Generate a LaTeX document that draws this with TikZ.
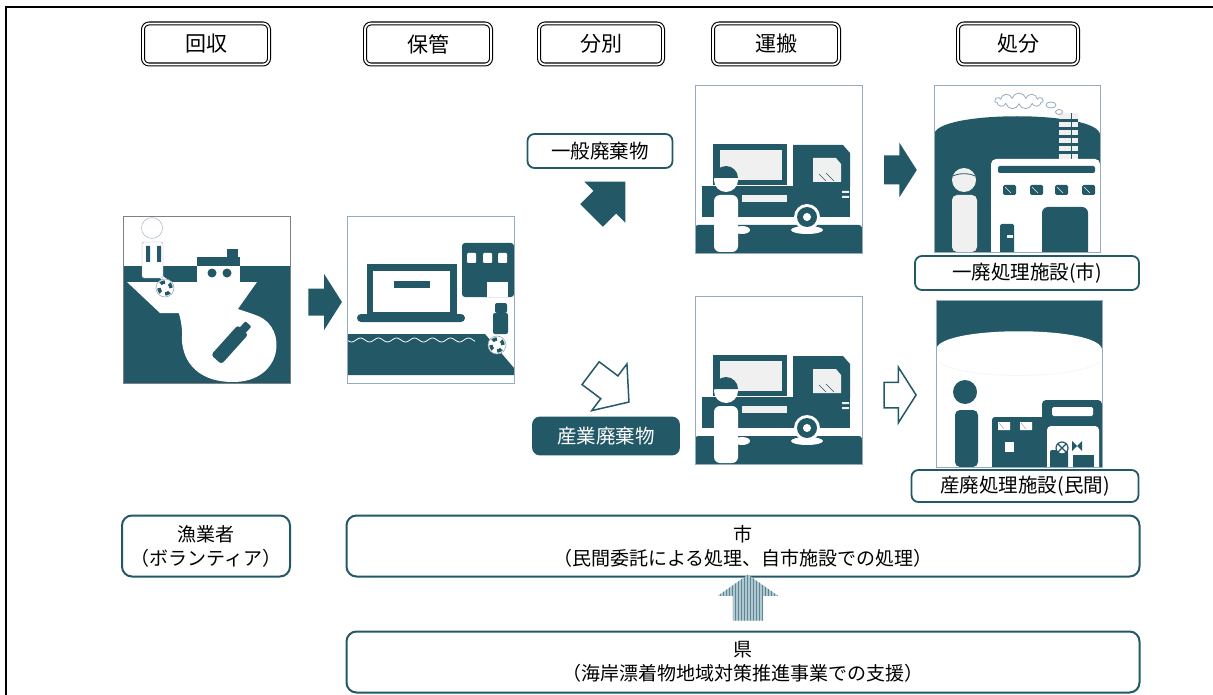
\documentclass[tikz,border=0pt]{standalone}
\usepackage{fontspec}
\newfontfamily\jpfont{Noto Sans CJK JP}
\usepackage{tikz}
\usetikzlibrary{shapes.arrows,shapes.symbols,patterns}

\definecolor{deep}{RGB}{35,88,103}
\definecolor{pale}{RGB}{240,240,240}
\definecolor{rim}{RGB}{150,170,192}
\definecolor{haze}{RGB}{178,200,209}
\definecolor{stripe}{RGB}{92,134,150}

\begin{document}
\begin{tikzpicture}[x=1pt, y=-1pt,
    hdr/.style={draw=black, double=white, double distance=1.8pt, line width=1.1pt,
      rounded corners=6pt, minimum width=#1, minimum height=41pt, inner sep=0pt,
      font=\jpfont\fontsize{21}{24}\selectfont},
    tag/.style={draw=deep, line width=1.8pt, rounded corners=7pt, fill=white,
      minimum width=#1, minimum height=34pt, inner sep=0pt,
      font=\jpfont\fontsize{19.5}{22}\selectfont},
    role/.style={draw=deep, line width=2pt, rounded corners=10pt, minimum width=#1,
      minimum height=61pt, inner sep=0pt, align=center,
      font=\jpfont\fontsize{19}{24}\selectfont},
    panel/.style={draw=rim, line width=0.8pt},
    blockarrow/.style={single arrow, draw=deep, fill=deep, line width=1.5pt,
      inner xsep=0pt, inner ysep=#1, single arrow head indent=0pt},
    buoy/.style={deep, line width=3.5pt, dash pattern=on 4.7pt off 4.7pt}]
  \useasboundingbox (0,0) rectangle (1213,695);
  \draw[line width=1.6pt] (6,695) -- (6,7) -- (1213,7);

  % column heads
  \node[hdr=126pt] (hkaishu) at (206,44) {回収};
  \node[hdr=126pt] (hhokan) at (428,44) {保管};
  \node[hdr=124pt] (hbunbetsu) at (601,44) {分別};
  \node[hdr=126pt] (hunpan) at (776,44) {運搬};
  \node[hdr=120pt] (hshobun) at (1018,44) {処分};

  % collection at sea
  \begin{scope}[shift={(123,216)}]
    \fill[deep] (0,50) rectangle (167,167);
    \fill[white] (4,66) -- (134,66) -- (112,97) -- (37,97) -- cycle;
    \fill[deep] (74,41) rectangle (117,50);
    \fill[deep] (104,33) rectangle (115,42);
    \fill[white] (74,50) rectangle (117,66);
    \fill[deep] (89,57) circle (4.5pt) (104,57) circle (4.5pt);
    \fill[white] (30,52) .. controls (60,80) and (110,90) .. (135,100)
      .. controls (165,112) and (160,166) .. (110,166)
      .. controls (70,166) and (58,140) .. (59,120)
      .. controls (60,95) and (45,70) .. (32,56) -- cycle;
    \begin{scope}[shift={(110,125)}, rotate=48]
      \fill[deep, rounded corners=3pt] (-25,-7) rectangle (15,7);
      \fill[deep, rounded corners=1pt] (14,-4) rectangle (23,4);
    \end{scope}
    \fill[white] (42,72) circle (9pt);
    \draw[buoy] (42,72) circle (6pt);
    \draw[rim, line width=0.6pt] (42,72) circle (9pt);
    \draw[rim, fill=white] (29,12) circle (10.5pt);
    \draw[rim, fill=white, rounded corners=2pt] (19,26) rectangle (40,62);
    \fill[deep] (23,30) rectangle (27,46) (34,30) rectangle (38,46);
    \draw[gray, line width=0.8pt] (0,0) rectangle (167,167);
  \end{scope}

  % storage on the shore
  \begin{scope}[shift={(347,216)}]
    \fill[deep] (20,48) rectangle (110,99);
    \fill[white] (26,55) rectangle (103,96);
    \fill[deep] (47,65) rectangle (83,72);
    \fill[deep, rounded corners=4pt] (10,98) rectangle (118,106);
    \fill[deep, rounded corners=3pt] (115,27) rectangle (167,81);
    \foreach \wx in {120,136,151}
      \fill[white, rounded corners=1pt] (\wx,37) rectangle ++(9,10);
    \fill[white] (140,66) rectangle (161,81);
    \fill[deep] (0,118) -- (138,118) -- (167,152) -- (167,159) -- (0,159) -- cycle;
    \draw[white, line width=0.8pt] plot[domain=0:128, samples=80] (\x,{124+2*sin(\x*20)});
    \fill[deep, rounded corners=2pt] (148,87) rectangle (160,97);
    \fill[deep, rounded corners=2pt] (146,97) rectangle (161,118);
    \fill[white] (150,129) circle (9pt);
    \draw[buoy] (150,129) circle (6pt);
    \draw[rim, line width=0.6pt] (150,129) circle (9pt);
    \draw[panel] (0,0) rectangle (167,167);
  \end{scope}

  % transport, upper and lower row
  \foreach \dy in {0,211} {
    \begin{scope}[shift={(695,{85+\dy})}]
      \fill[deep, rounded corners=3pt] (0,168) -- (0,140) -- (167,140) -- (167,168);
      \fill[deep] (18,59) rectangle (92,100);
      \fill[pale] (25,65) rectangle (87,95);
      \fill[deep] (7,101) rectangle (155,132);
      \fill[deep] (98,60) -- (148,60) -- (155,68) -- (155,102) -- (98,102) -- cycle;
      \fill[pale] (118,73) -- (141,73) -- (146,79) -- (146,97) -- (118,97) -- cycle;
      \draw[deep, line width=0.5pt] (124,89) -- (131,96) (131,88) -- (139,96);
      \fill[pale] (47,110) rectangle (92,117);
      \fill[pale] (147,106) rectangle (154,108) (147,111) rectangle (154,113);
      \fill[white] (112,145) ellipse (16pt and 4pt);
      \fill[white] (112,132) circle (13pt);
      \fill[deep] (112,132) circle (10pt);
      \fill[white] (112,132) circle (4pt);
      \fill[white] (47,145) ellipse (8pt and 4pt);
      \fill[white] (31,95) circle (12pt);
      \fill[deep] (19,93) arc[start angle=180, end angle=0, radius=12pt] -- cycle;
      \fill[white, rounded corners=6pt] (19,110) rectangle (43,167);
      \draw[panel] (0,0) rectangle (167,168);
    \end{scope}
  }

  % municipal plant
  \begin{scope}[shift={(934,85)}]
    \fill[deep] (0,50) .. controls (0,25) and (166,25) .. (166,50) -- (166,167) -- (0,167) -- cycle;
    \fill[pale] (125,28) rectangle (144,76);
    \foreach \k in {0,...,5}
      \fill[deep] (125,{34+8*\k}) rectangle (144,{37+8*\k});
    \draw[deep, line width=1pt] (137,28) -- (137,76);
    \node[cloud, cloud puffs=11, aspect=3, draw=rim, line width=0.8pt,
      minimum width=48pt, minimum height=16pt, inner sep=0pt] (smoke) at (85,16) {};
    \draw[rim, line width=0.8pt] (117,20) ellipse (5pt and 3pt) (125,27) ellipse (3.5pt and 2.5pt);
    \fill[white, rounded corners=5pt] (57,167) -- (57,74) -- (166,74) [sharp corners] -- (166,167) -- cycle;
    \fill[deep, rounded corners=2pt] (64,81) rectangle (161,88);
    \foreach \wx in {69,96,121,148} {
      \fill[deep, rounded corners=1.5pt] (\wx,100) rectangle ++(13,10);
      \draw[pale, line width=0.5pt] (\wx+2,102) -- (\wx+8,108);
    }
    \fill[deep, rounded corners=6pt] (108,167) -- (108,122) -- (154,122) [sharp corners] -- (154,167) -- cycle;
    \fill[deep, rounded corners=1.5pt] (66,167) -- (66,139) -- (80,139) [sharp corners] -- (80,167) -- cycle;
    \fill[pale] (73,150) rectangle (79,153);
    \fill[pale] (30,95) circle (12pt);
    \draw[deep, line width=0.8pt] (19,91) .. controls (24,88) and (36,88) .. (41,91);
    \fill[pale, rounded corners=5pt] (18,110) rectangle (43,167);
    \draw[panel] (0,0) rectangle (166,167);
  \end{scope}

  % private plant
  \begin{scope}[shift={(936,300)}]
    \fill[deep] (0,0) rectangle (166,52);
    \fill[white] (0,50) .. controls (0,25) and (166,25) .. (166,50) -- (166,167) -- (0,167) -- cycle;
    \draw[pale!60, line width=0.8pt] (3,62) .. controls (25,80) and (141,80) .. (163,62);
    \fill[deep] (29,92) circle (12pt);
    \fill[deep, rounded corners=5pt] (19,110) rectangle (42,167);
    \fill[deep, rounded corners=3pt] (56,167) -- (56,117) -- (112,117) [sharp corners] -- (112,167) -- cycle;
    \fill[white] (62,122) rectangle (74,130) (84,122) rectangle (96,130);
    \draw[rim, line width=0.5pt] (63,123) -- (68,129) (85,123) -- (90,129);
    \fill[white] (69,142) rectangle (78,152);
    \fill[deep, rounded corners=4pt] (106,167) -- (106,100) -- (166,100) [sharp corners] -- (166,167) -- cycle;
    \fill[white, rounded corners=1.5pt] (116,107) rectangle (157,116);
    \fill[white, rounded corners=4pt] (111,167) -- (111,126) -- (163,126) [sharp corners] -- (163,167) -- cycle;
    \fill[deep, rounded corners=2pt] (114,167) -- (114,150) -- (132,150) -- (132,167);
    \fill[deep] (137,155) rectangle (158,167);
    \fill[white] (126,148) circle (6pt);
    \draw[deep, line width=1.2pt] (126,148) circle (6pt) (122,144) -- (130,152) (130,144) -- (122,152);
    \fill[deep] (136,141) -- (146,151) -- (146,141) -- (136,151) -- cycle;
    \draw[panel] (0,0) rectangle (166,167);
  \end{scope}

  % sorting and the flow arrows
  \node[blockarrow=12pt, minimum height=32pt,
    single arrow head extend=12.5pt, single arrow tip angle=115] (toStore) at (321,302) {};
  \node[tag=145pt] (ippan) at (600,151) {一般廃棄物};
  \node[tag=146pt, fill=deep, text=white, minimum height=37pt] (sangyo) at (606,436) {産業廃棄物};
  \node[blockarrow=14.5pt, minimum height=46pt, rotate=45,
    single arrow head extend=12pt, single arrow tip angle=90] (toIppan) at (603,204) {};
  \node[blockarrow=13.5pt, fill=white, minimum height=48pt, rotate=-37,
    single arrow head extend=15pt, single arrow tip angle=100] (toSangyo) at (605,384) {};
  \node[blockarrow=13pt, minimum height=31pt,
    single arrow head extend=11pt, single arrow tip angle=115] (toCity) at (896,170) {};
  \node[blockarrow=12pt, fill=white, minimum height=32pt,
    single arrow head extend=15pt, single arrow tip angle=115] (toPrivate) at (896,395) {};

  % plant labels
  \node[tag=224pt] (cityPlant) at (1027,273) {一廃処理施設(市)};
  \node[tag=227pt, minimum height=32pt] (privPlant) at (1025,486) {産廃処理施設(民間)};

  % who does what
  \node[role=168pt] (fisher) at (206,546) {漁業者\\（ボランティア）};
  \node[role=793pt] (city) at (743,546) {市\\（民間委託による処理、自市施設での処理）};
  \node[role=793pt] (pref) at (743,662) {県\\（海岸漂着物地域対策推進事業での支援）};
  \node[single arrow, rotate=90, fill=haze, draw=none, inner xsep=0pt, inner ysep=15pt,
    postaction={pattern=vertical lines, pattern color=stripe},
    minimum height=46pt, single arrow head extend=15pt,
    single arrow tip angle=110, single arrow head indent=0pt] (support) at (748,603) {};
\end{tikzpicture}
\end{document}
